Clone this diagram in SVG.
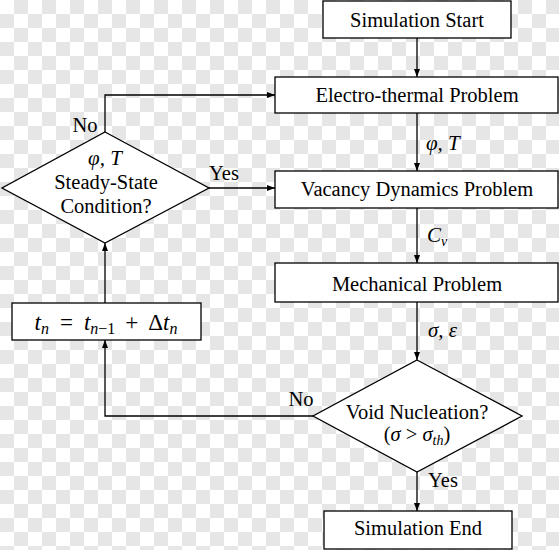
<svg xmlns="http://www.w3.org/2000/svg" width="559" height="550" viewBox="0 0 559 550">
<style>
.box{fill:#fff;stroke:#000;stroke-width:1.3}
.c{fill:none;stroke:#000;stroke-width:1.3}
</style>
<defs>
<marker id="ah" markerWidth="8" markerHeight="6" refX="8" refY="3" orient="auto" markerUnits="userSpaceOnUse">
<path d="M0,0 L8,3 L0,6 z" fill="#000"/>
</marker>
</defs>
<g id="background">
<rect x="0" y="0" width="559" height="550" fill="#ffffff"/>
<g stroke="#e6e6e6" stroke-width="14" stroke-dasharray="14 14" fill="none">
<path stroke-dashoffset="14" d="M0,7 H560"/>
<path d="M0,21 H560"/>
<path stroke-dashoffset="14" d="M0,35 H560"/>
<path d="M0,49 H560"/>
<path stroke-dashoffset="14" d="M0,63 H560"/>
<path d="M0,77 H560"/>
<path stroke-dashoffset="14" d="M0,91 H560"/>
<path d="M0,105 H560"/>
<path stroke-dashoffset="14" d="M0,119 H560"/>
<path d="M0,133 H560"/>
<path stroke-dashoffset="14" d="M0,147 H560"/>
<path d="M0,161 H560"/>
<path stroke-dashoffset="14" d="M0,175 H560"/>
<path d="M0,189 H560"/>
<path stroke-dashoffset="14" d="M0,203 H560"/>
<path d="M0,217 H560"/>
<path stroke-dashoffset="14" d="M0,231 H560"/>
<path d="M0,245 H560"/>
<path stroke-dashoffset="14" d="M0,259 H560"/>
<path d="M0,273 H560"/>
<path stroke-dashoffset="14" d="M0,287 H560"/>
<path d="M0,301 H560"/>
<path stroke-dashoffset="14" d="M0,315 H560"/>
<path d="M0,329 H560"/>
<path stroke-dashoffset="14" d="M0,343 H560"/>
<path d="M0,357 H560"/>
<path stroke-dashoffset="14" d="M0,371 H560"/>
<path d="M0,385 H560"/>
<path stroke-dashoffset="14" d="M0,399 H560"/>
<path d="M0,413 H560"/>
<path stroke-dashoffset="14" d="M0,427 H560"/>
<path d="M0,441 H560"/>
<path stroke-dashoffset="14" d="M0,455 H560"/>
<path d="M0,469 H560"/>
<path stroke-dashoffset="14" d="M0,483 H560"/>
<path d="M0,497 H560"/>
<path stroke-dashoffset="14" d="M0,511 H560"/>
<path d="M0,525 H560"/>
<path stroke-dashoffset="14" d="M0,539 H560"/>
<path d="M0,553 H560"/>
</g>
</g>

<g id="connectors">
<path class="c" d="M417,38 V77" marker-end="url(#ah)"/>
<path class="c" d="M417,113 V171" marker-end="url(#ah)"/>
<path class="c" d="M417,208 V263" marker-end="url(#ah)"/>
<path class="c" d="M417,302 V360" marker-end="url(#ah)"/>
<path class="c" d="M417,472 V511" marker-end="url(#ah)"/>
<path class="c" d="M209,188 H275" marker-end="url(#ah)"/>
<path class="c" d="M105,132 V95 H275" marker-end="url(#ah)"/>
<path class="c" d="M313,416 H105 V340" marker-end="url(#ah)"/>
<path class="c" d="M105,303 V243" marker-end="url(#ah)"/>
<g font-family="Liberation Serif, DejaVu Serif, Times New Roman, serif" font-size="21" font-style="italic" fill="#000">
<text x="426" y="150">φ, T</text>
<text x="427" y="242">C<tspan font-size="14" dy="4">v</tspan></text>
<text x="428" y="337">σ, ε</text>
</g>
<g font-family="Liberation Serif, DejaVu Serif, Times New Roman, serif" font-size="20.5" fill="#000" text-anchor="middle">
<text x="85" y="132">No</text>
<text x="224" y="180">Yes</text>
<text x="301" y="406">No</text>
<text x="443" y="487">Yes</text>
</g>
</g>

<g id="start" font-family="Liberation Serif, DejaVu Serif, serif" font-size="20.5" text-anchor="middle">
<rect class="box" x="323" y="1" width="188" height="37"/>
<text x="417" y="27">Simulation Start</text>
</g>
<g id="electro" font-family="Liberation Serif, DejaVu Serif, serif" font-size="20.5" text-anchor="middle">
<rect class="box" x="275" y="77" width="283" height="36"/>
<text x="417" y="102">Electro-thermal Problem</text>
</g>
<g id="vacancy" font-family="Liberation Serif, DejaVu Serif, serif" font-size="20.5" text-anchor="middle">
<rect class="box" x="275" y="171" width="283" height="37"/>
<text x="417" y="196">Vacancy Dynamics Problem</text>
</g>
<g id="mechanical" font-family="Liberation Serif, DejaVu Serif, serif" font-size="20.5" text-anchor="middle">
<rect class="box" x="275" y="263" width="283" height="39"/>
<text x="417" y="291">Mechanical Problem</text>
</g>
<g id="steady" font-family="Liberation Serif, DejaVu Serif, serif" font-size="20.5" text-anchor="middle">
<polygon class="box" points="105,132 209,188 105,243 2,188"/>
<text x="105" y="165" font-style="italic" font-size="21">φ, T</text>
<text x="106" y="189">Steady-State</text>
<text x="106" y="213">Condition?</text>
</g>
<g id="timestep" font-family="Liberation Serif, DejaVu Serif, serif" font-size="23" text-anchor="middle">
<rect class="box" x="12" y="303" width="189" height="37"/>
<text x="106" y="330"><tspan font-style="italic">t</tspan><tspan font-style="italic" font-size="16" dy="4">n</tspan><tspan dy="-4" dx="11">=</tspan><tspan font-style="italic" dx="11">t</tspan><tspan font-style="italic" font-size="16" dy="4">n</tspan><tspan font-size="16">−1</tspan><tspan dy="-4" dx="10">+</tspan><tspan dx="10">Δ</tspan><tspan font-style="italic">t</tspan><tspan font-style="italic" font-size="16" dy="4">n</tspan></text>
</g>
<g id="void" font-family="Liberation Serif, DejaVu Serif, serif" font-size="20.5" text-anchor="middle">
<polygon class="box" points="417,360 522,416 417,472 313,416"/>
<text x="417" y="419">Void Nucleation?</text>
<text x="417" y="441">(<tspan font-style="italic">σ</tspan> &gt; <tspan font-style="italic">σ</tspan><tspan font-size="14" font-style="italic" dy="4">th</tspan><tspan dy="-4">)</tspan></text>
</g>
<g id="end" font-family="Liberation Serif, DejaVu Serif, serif" font-size="20.5" text-anchor="middle">
<rect class="box" x="324" y="511" width="188" height="38"/>
<text x="418" y="535">Simulation End</text>
</g>
</svg>
